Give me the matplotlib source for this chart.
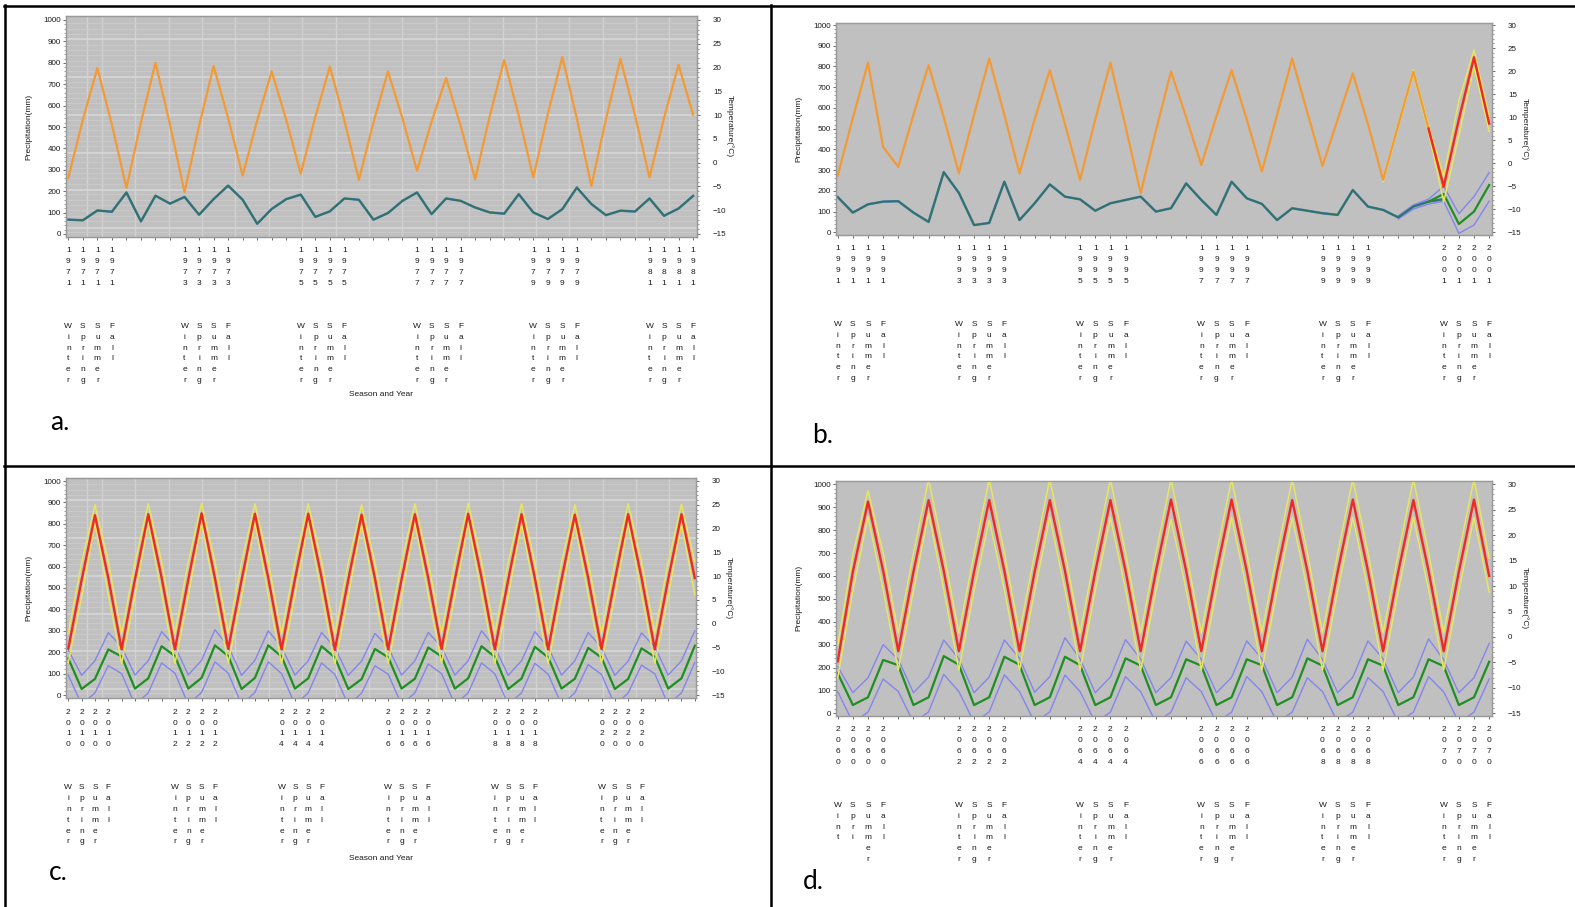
import matplotlib.pyplot as plt
from matplotlib.lines import Line2D
from matplotlib.ticker import MultipleLocator

# four panels of seasonal temperature (right axis, degC) and precipitation (left axis, mm)
seasons = ["Winter", "Spring", "Summer", "Fall"]

# a. 1971-1981 observed
years_a = list(range(1971, 1982))
label_years_a = [1971, 1973, 1975, 1977, 1979, 1981]
temp_a = [-3.2, 9.0, 19.9, 8.0,  -5.3, 8.5, 21.0, 8.0,  -6.2, 7.7, 20.3, 9.4,
          -2.7, 8.9, 19.2, 9.0,  -2.3, 9.6, 20.2, 8.9,  -3.6, 8.4, 19.2, 9.3,
          -1.7, 8.6, 17.8, 7.8,  -3.5, 9.7, 21.6, 9.9,  -3.1, 10.2, 22.2, 9.3,
          -4.9, 9.1, 21.8, 10.0, -3.1, 9.4, 20.6, 10.1]
prec_a = [67, 64, 110, 104,  194, 59, 179, 142,  173, 90, 163, 226,
          160, 48, 117, 163,  184, 80, 106, 166,  160, 67, 98, 155,
          194, 93, 166, 155,  124, 101, 95, 186,  101, 70, 116, 217,
          140, 88, 109, 105,  166, 85, 119, 178]

# b. 1991-2001 observed + forecast at the end
years_b = list(range(1991, 2002))
label_years_b = [1991, 1993, 1995, 1997, 1999, 2001]
temp_b = [-2.7, 9.8, 21.8, 3.5,  -0.8, 10.5, 21.3, 10.0,  -2.2, 10.5, 22.7, 10.5,
          -2.2, 9.5, 20.2, 8.5,  -3.6, 9.5, 21.8, 8.0,  -6.5, 7.0, 19.9, 10.0,
          -0.4, 10.2, 20.2, 9.5,  -1.8, 10.5, 22.7, 11.0,  -0.6, 9.5, 19.5, 8.5,
          -3.6, 8.3, 19.9, 7.5,  -5.1]
prec_b = [170, 95, 135, 148,  150, 95, 50, 290,  190, 35, 45, 244,
          59, 140, 231, 172,  159, 104, 140, 156,  172, 100, 116, 236,
          156, 84, 244, 164,  137, 59, 116, 104,  92, 84, 204, 124,
          108, 72, 124, 148,  160]
fc_temp_b = [7.5, -5.1, 9.5, 23.0, 8.6]          # from 2000 Fall
fc_temp_hi_b = [-3.2, 8.7, 20.3, 8.2, -2.9, 13.5, 24.6, 10.2]   # from 2000 Winter
fc_temp_lo_b = [-4.0, 7.9, 19.4, 6.8, -8.4, 6.0, 21.0, 6.9]
fc_prec_b = [148, 185, 40, 100, 228]              # from 2000 Fall
fc_prec_hi_b = [80, 132, 160, 222, 90, 172, 288]  # from 2000 Spring
fc_prec_lo_b = [64, 112, 136, 150, -5, 35, 150]

# c. 2010-2021 projection
years_c = list(range(2010, 2022))
label_years_c = [2010, 2012, 2014, 2016, 2018, 2020]
temp_c = [-5.2, 9.2, 22.8, 9.6,  -5.4, 9.3, 23.0, 9.7,  -5.4, 9.3, 23.2, 9.6,
          -5.3, 9.2, 23.1, 9.6,  -5.4, 9.3, 23.1, 9.7,  -5.5, 9.2, 22.9, 9.6,
          -5.4, 9.3, 23.0, 9.6,  -5.3, 9.3, 23.1, 9.7,  -5.4, 9.2, 23.0, 9.6,
          -5.4, 9.3, 22.9, 9.6,  -5.3, 9.2, 23.0, 9.7,  -5.4, 9.3, 23.0, 9.6]
temp_hi_c = [-2.0, 12.9, 25.0, 13.1,  -2.1, 12.9, 25.2, 13.1,  -2.1, 13.0, 25.3, 13.1,
             -2.0, 12.9, 25.2, 13.0,  -2.1, 12.9, 25.2, 13.1,  -2.2, 12.8, 25.0, 13.0,
             -2.1, 12.9, 25.2, 13.1,  -2.0, 12.9, 25.3, 13.1,  -2.1, 12.9, 25.2, 13.0,
             -2.1, 12.9, 25.0, 13.1,  -2.0, 12.8, 25.2, 13.1,  -2.1, 12.9, 25.1, 13.0]
temp_lo_c = [-8.2, 5.6, 21.1, 6.1,  -8.4, 5.7, 21.2, 6.2,  -8.4, 5.7, 21.3, 6.1,
             -8.3, 5.6, 21.2, 6.1,  -8.4, 5.7, 21.2, 6.2,  -8.5, 5.6, 21.0, 6.1,
             -8.4, 5.7, 21.1, 6.1,  -8.3, 5.7, 21.2, 6.2,  -8.4, 5.6, 21.1, 6.1,
             -8.4, 5.7, 21.0, 6.1,  -8.3, 5.6, 21.1, 6.2,  -8.4, 5.7, 21.1, 6.1]
prec_c = [171, 28, 75, 213,  180, 30, 78, 228,  182, 30, 80, 232,
          182, 28, 80, 232,  180, 30, 78, 228,  175, 28, 74, 215,
          176, 30, 76, 222,  180, 30, 78, 228,  178, 28, 77, 225,
          176, 30, 76, 220,  175, 28, 75, 218,  178, 30, 78, 230]
prec_hi_c = [210, 92, 160, 291,  225, 93, 160, 296,  228, 94, 162, 305,
             227, 92, 162, 300,  225, 93, 160, 292,  222, 92, 158, 288,
             223, 93, 160, 292,  225, 93, 160, 300,  224, 92, 160, 296,
             223, 93, 160, 292,  222, 92, 158, 290,  225, 93, 160, 300]
prec_lo_c = [93, -45, 10, 137,  100, -45, 10, 150,  102, -44, 12, 155,
             102, -45, 12, 155,  100, -45, 10, 150,  96, -46, 8, 137,
             97, -45, 10, 145,  100, -45, 10, 150,  99, -45, 10, 148,
             97, -45, 10, 142,  96, -46, 9, 140,  99, -45, 10, 152]

# d. 2060-2070 projection
years_d = list(range(2060, 2071))
label_years_d = [2060, 2062, 2064, 2066, 2068, 2070]
first_seasons_d = ["Wint", "Spri", "Summer", "Fall"]
temp_d = [-4.8, 12.8, 26.6, 13.0,  -2.8, 12.8, 26.9, 13.0,  -2.8, 12.8, 26.9, 13.0,
          -2.8, 12.8, 26.9, 13.0,  -2.8, 12.8, 26.9, 13.0,  -2.8, 12.8, 27.0, 13.0,
          -2.8, 12.8, 27.0, 13.0,  -2.8, 12.8, 26.9, 13.0,  -2.8, 12.8, 27.0, 13.0,
          -2.8, 12.8, 26.9, 13.0,  -2.8, 12.8, 27.0, 12.0]
temp_hi_d = [-1.6, 16.2, 28.7, 16.6,  0.8, 16.4, 31.0, 16.6,  0.8, 16.4, 31.0, 16.6,
             0.8, 16.4, 31.0, 16.6,  0.8, 16.4, 31.0, 16.6,  0.8, 16.4, 31.0, 16.6,
             0.8, 16.4, 31.0, 16.6,  0.8, 16.4, 31.0, 16.6,  0.8, 16.4, 31.0, 16.6,
             0.8, 16.4, 31.0, 16.6,  0.8, 16.4, 31.0, 15.5]
temp_lo_d = [-8.0, 9.0, 23.6, 9.3,  -6.5, 9.0, 24.3, 9.3,  -6.5, 9.0, 23.0, 9.3,
             -6.5, 9.0, 23.5, 9.3,  -6.5, 9.0, 23.5, 9.3,  -6.5, 9.0, 23.1, 9.3,
             -6.5, 9.0, 23.5, 9.3,  -6.5, 9.0, 23.5, 9.3,  -6.5, 9.0, 23.5, 9.3,
             -6.5, 9.0, 23.5, 9.3,  -6.5, 9.0, 23.5, 8.8]
prec_d = [175, 36, 70, 233,  210, 36, 70, 250,  212, 36, 70, 247,
          212, 36, 70, 247,  210, 36, 70, 240,  208, 36, 70, 236,
          208, 36, 70, 236,  210, 36, 70, 240,  208, 36, 70, 236,
          208, 36, 70, 236,  206, 36, 70, 225]
prec_hi_d = [204, 90, 155, 300,  235, 90, 158, 320,  238, 90, 158, 320,
             240, 92, 160, 330,  238, 90, 158, 322,  236, 90, 156, 315,
             236, 90, 157, 316,  238, 90, 158, 323,  236, 90, 157, 316,
             238, 90, 158, 325,  234, 90, 155, 305]
prec_lo_d = [95, -40, 5, 150,  95, -40, 6, 170,  95, -40, 6, 168,
             95, -40, 6, 167,  95, -40, 5, 160,  94, -40, 5, 155,
             95, -40, 5, 160,  94, -40, 5, 155,  95, -40, 5, 156,
             95, -40, 5, 160,  94, -40, 5, 150]

W, H = 1575, 907
BG = "#c0c0c0"
ORANGE = "#f29a35"
RED = "#ee2a22"
YELLOW = "#e6e660"
GREEN = "#1f8f24"
PBLUE = "#4a7cc0"
PGREEN = "#2a7040"
CIBLUE = "#8585ee"
TXT = "#1a1a1a"
LABFONT = ["Liberation Sans", "DejaVu Sans"]

fig = plt.figure(figsize=(W / 100, H / 100), dpi=100)
fig.patch.set_facecolor("white")


def make_labels(years, labelled, first_names=None):
    labels = []
    for y in years:
        for j, s in enumerate(seasons):
            if y in labelled:
                name = first_names[j] if (first_names and y == years[0]) else s
                labels.append("\n".join(str(y)) + "\n\n\n\n" + "\n".join(name))
            else:
                labels.append("")
    return labels


def make_panel(left, top, right, bottom, tick0, step, zero_px, thousand_px,
               n, labels, textured):
    ax = fig.add_axes([left / W, 1 - bottom / H, (right - left) / W, (bottom - top) / H])
    ax.set_facecolor(BG)
    ax.set_xlim((left - tick0) / step, (right - tick0) / step)
    per_mm = (zero_px - thousand_px) / 1000.0
    lo = -(bottom - zero_px) / per_mm
    hi = 1000 + (thousand_px - top) / per_mm
    ax.set_ylim(lo, hi)

    if textured:
        xs = [(87 - left) / (right - left)]
        k = 1
        while tick0 + 33.4 * k < right:
            xs.append((tick0 + 33.4 * k - left) / (right - left))
            k += 1
        ax.vlines(xs, 0, 1, transform=ax.transAxes, color="#d2d2d2", lw=1.0, zorder=0)
        for v in range(10, 1000, 25):
            ax.axhline(v, color="#cbcbcb", lw=0.6, zorder=0)
        for v in [30, 205, 380, 557, 732, 910]:
            ax.axhline(v, color="#d6d6d6", lw=1.2, zorder=0)

    ax.set_xticks(range(n))
    ax.set_xticklabels(labels, fontsize=6, linespacing=1.76, family=LABFONT, color=TXT,
                       va="top")
    ax.tick_params(axis="x", length=2.5, width=0.6, color="#555555", pad=5)
    ax.set_yticks(range(0, 1001, 100))
    ax.yaxis.set_minor_locator(MultipleLocator(20))
    ax.tick_params(axis="y", which="major", length=2.5, width=0.6, color="#555555",
                   labelsize=5.8, pad=1.2, labelcolor=TXT)
    ax.tick_params(axis="y", which="minor", length=1.3, width=0.5, color="#777777")
    for lab in ax.get_yticklabels():
        lab.set_family(LABFONT)

    ax2 = ax.twinx()
    ax2.set_ylim(-15 + 0.045 * lo, -15 + 0.045 * hi)
    ax2.set_yticks(range(-15, 31, 5))
    ax2.yaxis.set_minor_locator(MultipleLocator(1))
    ax2.tick_params(axis="y", which="major", length=2.5, width=0.6, color="#555555",
                    labelsize=5.8, pad=9, labelcolor=TXT)
    ax2.tick_params(axis="y", which="minor", length=1.3, width=0.5, color="#777777")
    for lab in ax2.get_yticklabels():
        lab.set_family(LABFONT)
    for a in (ax, ax2):
        for sp in a.spines.values():
            sp.set_color("#9a9a9a")
            sp.set_linewidth(0.9)

    cy = (top + bottom) / 2
    fig.text((left - 37) / W, 1 - cy / H, "Precipitation(mm)", rotation=90,
             ha="center", va="center", fontsize=6, family=LABFONT, color=TXT)
    fig.text((right + 33) / W, 1 - cy / H, "Temperature(\u00b0C)", rotation=270,
             ha="center", va="center", fontsize=6, family=LABFONT, color=TXT)
    return ax, ax2


def x_from(start, values):
    return list(range(start, start + len(values)))


# ---- panel a
ax, ax2 = make_panel(66, 16, 697, 237, 68.3, 14.53, 234, 20, len(temp_a),
                     make_labels(years_a, label_years_a), True)
ax.plot(x_from(0, prec_a), prec_a, color=PBLUE, lw=1.8)
ax.plot(x_from(0, prec_a), prec_a, color=PGREEN, lw=1.3, alpha=0.75)
ax2.plot(x_from(0, temp_a), temp_a, color=ORANGE, lw=1.6)

# ---- panel b
ax, ax2 = make_panel(836, 22.7, 1492, 235, 837.7, 15.15, 232.3, 25, 44,
                     make_labels(years_b, label_years_b), False)
ax.plot(x_from(37, fc_prec_hi_b), fc_prec_hi_b, color=CIBLUE, lw=1.0)
ax.plot(x_from(37, fc_prec_lo_b), fc_prec_lo_b, color=CIBLUE, lw=1.0)
ax.plot(x_from(0, prec_b), prec_b, color=PBLUE, lw=1.8)
ax.plot(x_from(0, prec_b), prec_b, color=PGREEN, lw=1.3, alpha=0.75)
ax.plot(x_from(39, fc_prec_b), fc_prec_b, color=GREEN, lw=1.6)
ax2.plot(x_from(36, fc_temp_hi_b), fc_temp_hi_b, color=YELLOW, lw=1.1)
ax2.plot(x_from(36, fc_temp_lo_b), fc_temp_lo_b, color=YELLOW, lw=1.1)
ax2.plot(x_from(0, temp_b), temp_b, color=ORANGE, lw=1.6)
ax2.plot(x_from(39, fc_temp_b), fc_temp_b, color=RED, lw=1.7)

# ---- panel c
ax, ax2 = make_panel(66, 478.3, 696, 698.3, 68.3, 13.33, 695, 481, len(temp_c),
                     make_labels(years_c, label_years_c), True)
ax.plot(x_from(0, prec_hi_c), prec_hi_c, color=CIBLUE, lw=1.0)
ax.plot(x_from(0, prec_lo_c), prec_lo_c, color=CIBLUE, lw=1.0)
ax.plot(x_from(0, prec_c), prec_c, color=GREEN, lw=1.6)
ax2.plot(x_from(0, temp_hi_c), temp_hi_c, color=YELLOW, lw=1.1)
ax2.plot(x_from(0, temp_lo_c), temp_lo_c, color=YELLOW, lw=1.1)
ax2.plot(x_from(0, temp_c), temp_c, color=RED, lw=1.7)

# ---- panel d
ax, ax2 = make_panel(836, 480.7, 1492, 716, 837.7, 15.15, 713.3, 484.3, len(temp_d),
                     make_labels(years_d, label_years_d, first_seasons_d), False)
ax.plot(x_from(0, prec_hi_d), prec_hi_d, color=CIBLUE, lw=1.0)
ax.plot(x_from(0, prec_lo_d), prec_lo_d, color=CIBLUE, lw=1.0)
ax.plot(x_from(0, prec_d), prec_d, color=GREEN, lw=1.6)
ax2.plot(x_from(0, temp_hi_d), temp_hi_d, color=YELLOW, lw=1.1)
ax2.plot(x_from(0, temp_lo_d), temp_lo_d, color=YELLOW, lw=1.1)
ax2.plot(x_from(0, temp_d), temp_d, color=RED, lw=1.7)

# x axis titles (only visible under a and c)
for cx, cy in [(381, 395), (381, 858)]:
    fig.text(cx / W, 1 - cy / H, "Season and Year", ha="center", va="center",
             fontsize=6, family=LABFONT, color=TXT)

# panel letters
for txt, lx, ly in [("a.", 50, 430), ("b.", 812, 443), ("c.", 49, 880), ("d.", 803, 889)]:
    fig.text(lx / W, 1 - ly / H, txt, ha="left", va="baseline", fontsize=19,
             family=["Lato", "DejaVu Sans"], color="black")

# table frame
for x0, y0, x1, y1 in [(4, 6.2, 1575, 6.2), (5.3, 5, 5.3, 907), (771, 5, 771, 907),
                       (4, 466.2, 1575, 466.2)]:
    fig.add_artist(Line2D([x0 / W, x1 / W], [1 - y0 / H, 1 - y1 / H],
                          transform=fig.transFigure, color="black", lw=1.8))

fig.savefig("out.png", dpi=100)
